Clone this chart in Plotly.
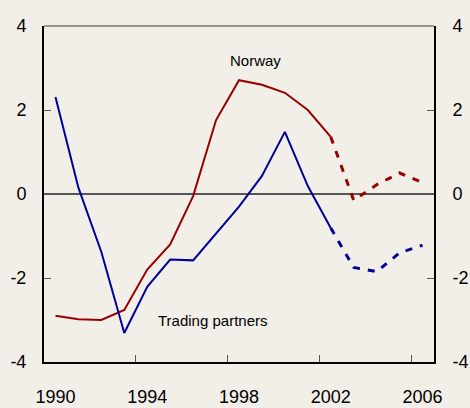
import plotly.graph_objects as go

years = list(range(1990, 2007))
norway = [-2.9, -2.98, -3.0, -2.76, -1.8, -1.2, -0.05, 1.76, 2.71, 2.6, 2.41, 2.0, 1.36,
          -0.15, 0.22, 0.5, 0.27]
partners = [2.31, 0.15, -1.38, -3.31, -2.21, -1.56, -1.58, -0.93, -0.3, 0.43, 1.48, 0.19, -0.81,
            -1.75, -1.85, -1.4, -1.22]
split_year = 2002
xtick_labels = [1990, 1994, 1998, 2002, 2006]
ytick_vals = [-4, -2, 0, 2, 4]
ytick_text = ["-4", "-2", "0", "2", "4"]

RED = "#990000"
BLUE = "#000099"
BG = "#F2EFE9"
FONT = "Liberation Sans Narrow, Arial Narrow, Liberation Sans, Arial, sans-serif"

i = years.index(split_year)
fig = go.Figure()
for vals, col in [(norway, RED), (partners, BLUE)]:
    fig.add_trace(go.Scatter(x=years[:i + 1], y=vals[:i + 1], mode="lines",
                             line=dict(color=col, width=2), showlegend=False))
    fig.add_trace(go.Scatter(x=years[i:], y=vals[i:], mode="lines",
                             line=dict(color=col, width=3, dash="7px,8px"), showlegend=False))

xr = [years[0] - 0.5, years[-1] + 0.5]
fig.update_layout(
    width=470, height=408,
    margin=dict(l=44, r=36, t=26, b=46),
    paper_bgcolor=BG, plot_bgcolor=BG,
    font=dict(family=FONT, size=18, color="black"),
    xaxis=dict(range=xr, tickvals=xtick_labels, ticktext=[str(v) for v in xtick_labels],
               ticks="", showgrid=False, zeroline=False, showline=True, automargin=False,
               linecolor="black", linewidth=2, ticklabelstandoff=17),
    xaxis2=dict(range=xr, overlaying="x", anchor="y", side="bottom", automargin=False,
                tickvals=[v - 0.5 for v in xtick_labels[1:]], ticks="inside", ticklen=7,
                tickcolor="#555", tickwidth=1, showticklabels=False, showgrid=False,
                zeroline=False, showline=False),
    yaxis=dict(range=[-4, 4], tickvals=ytick_vals, ticktext=ytick_text, ticks="inside",
               ticklen=7, automargin=False,
               tickcolor="#555", showgrid=False, zeroline=True, zerolinecolor="#555",
               zerolinewidth=1.5, showline=True, linecolor="black", linewidth=2,
               ticklabelstandoff=12),
    yaxis2=dict(range=[-4, 4], overlaying="y", side="right", anchor="x", automargin=False,
                tickvals=ytick_vals, ticktext=ytick_text, ticks="inside", ticklen=7,
                tickcolor="#555",
                showgrid=False, zeroline=False, showline=True, linecolor="black",
                linewidth=2, ticklabelstandoff=13),
    shapes=[dict(type="line", xref="paper", yref="paper", x0=0, x1=1, y0=1, y1=1,
                 line=dict(color="#777", width=1.5))],
    annotations=[
        dict(x=1998.7, y=3.17, text="Norway", showarrow=False, font=dict(size=15, family=FONT)),
        dict(x=1996.87, y=-3.02, text="Trading partners", showarrow=False,
             font=dict(size=15, family=FONT)),
    ],
)
fig.add_trace(go.Scatter(x=[None], y=[None], xaxis="x2", yaxis="y2", showlegend=False))
fig.write_html("out.html", config={"displayModeBar": False},
               post_script="document.body.style.margin='0';document.body.style.overflow='hidden';"
                           "document.body.style.background='" + BG + "';")
